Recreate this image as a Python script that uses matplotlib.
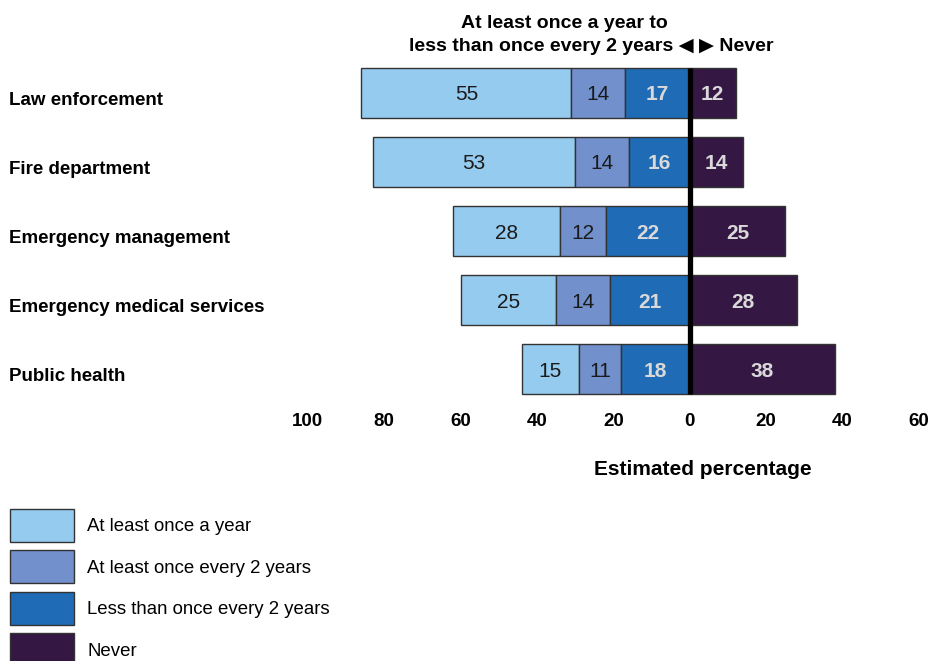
import matplotlib.pyplot as plt
import numpy as np

# data
categories = ['Law enforcement', 'Fire department', 'Emergency management',
              'Emergency medical services', 'Public health']
once_year = [55, 53, 28, 25, 15]
once_2yrs = [14, 14, 12, 14, 11]
less_2yrs = [17, 16, 22, 21, 18]
never = [12, 14, 25, 28, 38]

series_names = ['At least once a year', 'At least once every 2 years',
                'Less than once every 2 years', 'Never']
colors = ['#95CBEE', '#7190CC', '#1F6BB5', '#341843']
label_colors = ['#1a1a1a', '#1a1a1a', '#D9D9D9', '#D9D9D9']
label_weights = ['normal', 'normal', 'bold', 'bold']

plt.rcParams['font.family'] = ['Liberation Sans', 'DejaVu Sans']

fig = plt.figure(figsize=(9.33, 6.61), dpi=100)
ax = fig.add_axes([0.330, 0.379, 0.655, 0.543])

y = np.arange(len(categories))
h = 0.72

once_year = np.array(once_year)
once_2yrs = np.array(once_2yrs)
less_2yrs = np.array(less_2yrs)
never = np.array(never)

# left side stacks outwards from zero: less -> 2yrs -> yearly
left_less = -less_2yrs
left_2yrs = left_less - once_2yrs
left_year = left_2yrs - once_year

segments = [
    (left_year, once_year),
    (left_2yrs, once_2yrs),
    (left_less, less_2yrs),
    (np.zeros(len(never)), never),
]

handles = []
for (lefts, widths), c, lc, lw, name in zip(segments, colors, label_colors,
                                             label_weights, series_names):
    bars = ax.barh(y, widths, left=lefts, height=h, color=c,
                   edgecolor='#333333', linewidth=1, label=name)
    handles.append(bars)
    for b, v in zip(bars, widths):
        ax.text(b.get_x() + b.get_width() / 2, b.get_y() + b.get_height() / 2,
                str(v), ha='center', va='center_baseline', fontsize=15,
                color=lc, fontweight=lw)

ax.vlines(0, -h / 2, len(categories) - 1 + h / 2, color='black', linewidth=3.8, zorder=5)

ax.set_xlim(-100, 60)
ax.set_ylim(len(categories) - 1 + 0.6, -0.6)
ticks = np.arange(-100, 61, 20)
ax.set_xticks(ticks)
ax.set_xticklabels([str(abs(t)) for t in ticks], fontsize=13.5, fontweight='bold')
ax.tick_params(axis='x', length=0, pad=2)

ax.set_yticks(y + 0.08)
ax.set_yticklabels(categories, fontsize=13.5, fontweight='bold', ha='left')
ax.tick_params(axis='y', length=0, pad=215)

for s in ax.spines.values():
    s.set_visible(False)

fig.text(0.605, 0.965, 'At least once a year to', ha='center', va='center',
         fontsize=14, fontweight='bold')
fig.text(0.634, 0.930, 'less than once every 2 years \u25C0 \u25B6 Never', ha='center',
         va='center', fontsize=14, fontweight='bold')

fig.text(0.7535, 0.290, 'Estimated percentage', ha='center', va='center',
         fontsize=15, fontweight='bold')

fig.legend(handles=handles, labels=series_names, loc='upper left',
           bbox_to_anchor=(-0.003, 0.250), frameon=False, fontsize=13.4,
           handlelength=3.44, handleheight=2.35, labelspacing=0.46,
           handletextpad=0.7, borderpad=0.2)

fig.savefig('out.png', dpi=100)
